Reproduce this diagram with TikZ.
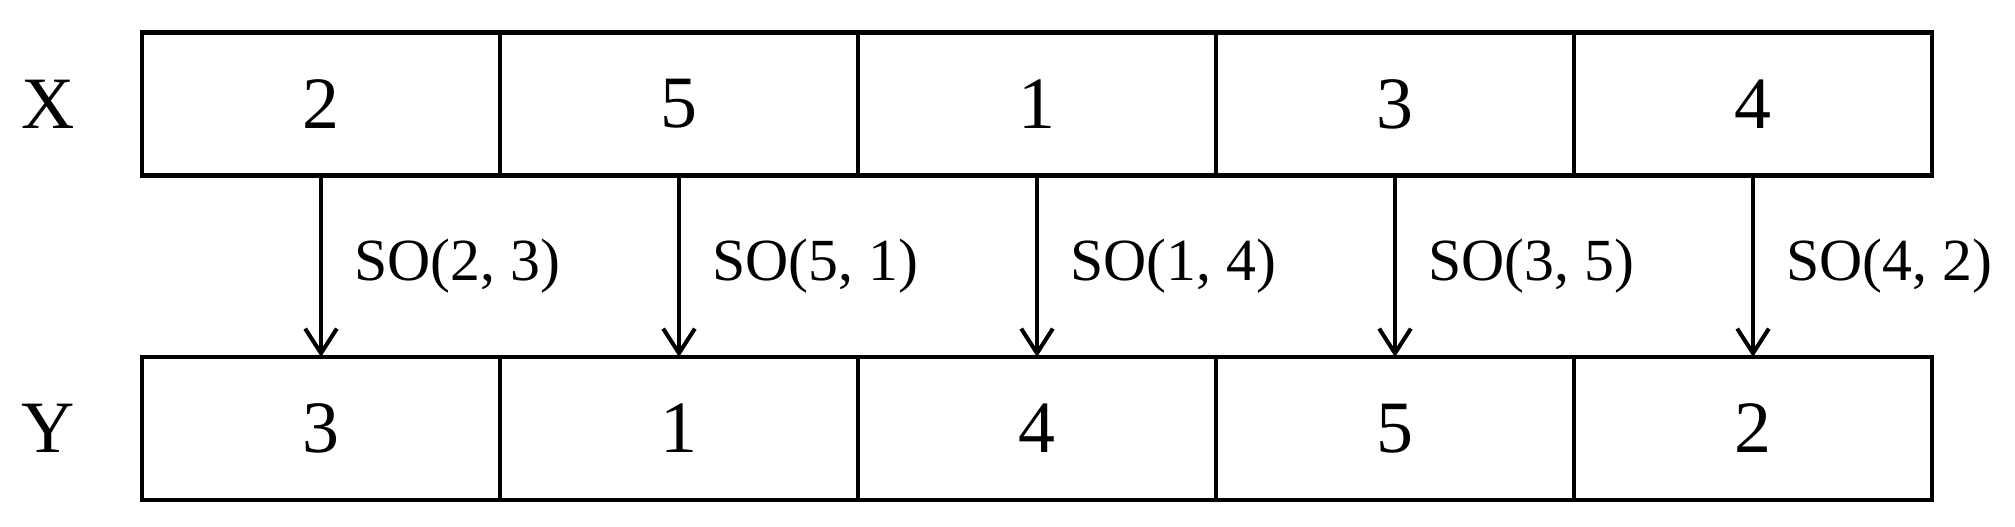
\documentclass[tikz,border=0pt]{standalone}
\usepackage{fontspec}
\setmainfont{Liberation Serif}
\usepackage{tikz}
\usetikzlibrary{positioning,arrows.meta}

\tikzset{
  cell/.style={draw, line width=1.25pt, minimum width=3.58cm, minimum height=1.43cm,
               inner sep=0pt, outer sep=0pt, font=\fontsize{21}{25}\selectfont},
  rowname/.style={inner sep=0pt, font=\fontsize{21}{25}\selectfont},
  swap/.style={-{Straight Barb[length=7pt,width=9pt,line width=1.15pt]}, line width=1.15pt},
  oplabel/.style={inner sep=0pt, font=\fontsize{17}{20}\selectfont}
}

\begin{document}
\begin{tikzpicture}[x=0.01cm,y=-0.01cm]

\useasboundingbox (0,0) rectangle (2015,526); % taille de l'image

% la ligne X
\foreach \v [count=\i] in {2,5,1,3,4}
  \node[cell] (x\i) at ({321+358*(\i-1)},104) {\v};

% la ligne Y
\foreach \v [count=\i] in {3,1,4,5,2}
  \node[cell] (y\i) at ({321+358*(\i-1)},428.5) {\v};

\node[rowname, left=0.66cm of x1] (nx) {X};
\node[rowname, left=0.66cm of y1] (ny) {Y};

% les fleches
\foreach \i/\a/\b in {1/2/3, 2/5/1, 3/1/4, 4/3/5, 5/4/2}
  \draw[swap] (x\i.south) -- (y\i.north)
    node[oplabel, midway, right=0.31cm] (so\i) {SO(\a, \b)};

\end{tikzpicture}
\end{document}
